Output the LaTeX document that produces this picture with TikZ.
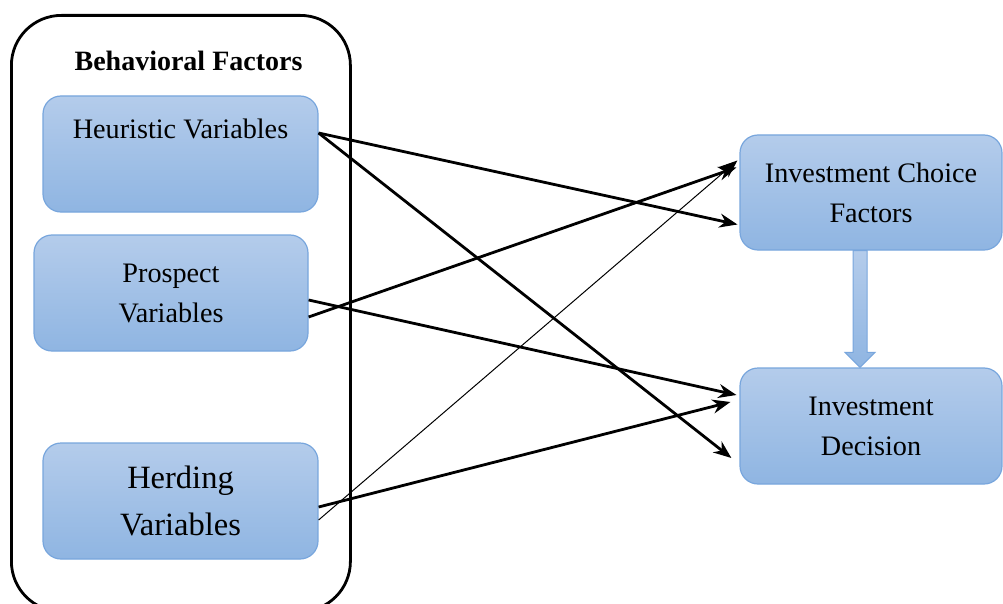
\documentclass[tikz,border=0pt]{standalone}
\usepackage{fontspec}
\setmainfont{Liberation Serif}
\usetikzlibrary{arrows.meta,calc}
\definecolor{boxtop}{RGB}{180,204,235}
\definecolor{boxbot}{RGB}{143,181,226}
\definecolor{boxline}{RGB}{120,166,221}
\tikzset{
 varbox/.style={draw=boxline, line width=1.2pt, rounded corners=18pt, top color=boxtop, bottom color=boxbot, align=center, inner sep=0pt, font=\fontsize{28.2}{40}\selectfont},
 link/.style={line width=2.8pt, -{Stealth[length=18pt,width=14pt]}},
 thinlink/.style={line width=1pt, -{Stealth[length=18pt,width=14pt]}},
}
\begin{document}
\begin{tikzpicture}[x=1pt,y=-1pt]
\useasboundingbox (0,0) rectangle (1003,604);
\clip (0,0) rectangle (1003,604);
\fill[white] (0,0) rectangle (1003,604);
\node[draw, line width=2.8pt, rounded corners=50pt, minimum width=339pt, minimum height=596pt, anchor=north west, inner sep=0pt] (behav) at (10,14) {};
\node[font=\bfseries\fontsize{28}{30}\selectfont] (bft) at (188.5,61) {Behavioral Factors};
\node[varbox, minimum width=275pt, minimum height=116pt] (heur) at (180.5,154) {Heuristic Variables\\[10pt]\mbox{}};
\node[varbox, minimum width=274pt, minimum height=116pt] (pros) at (171,293) {Prospect\\Variables};
\node[varbox, minimum width=275pt, minimum height=116pt, font=\fontsize{32.5}{47}\selectfont] (herd) at (180.5,501) {Herding\\Variables};
\node[varbox, minimum width=262pt, minimum height=115pt] (icf) at (871,192.5) {Investment Choice\\Factors};
\node[varbox, minimum width=262pt, minimum height=116pt] (id) at (871,426) {Investment\\Decision};
\path[draw=boxline, line width=1pt, top color=boxtop, bottom color=boxbot]
  ($(icf.south)+(-18,0)$) -- ($(icf.south)+(-4,0)$) -- ($(id.north)+(-4,-15)$) -- ($(id.north)+(4,-15)$)
  -- ($(id.north)+(-11,0)$) -- ($(id.north)+(-26,-15)$) -- ($(id.north)+(-18,-15)$) -- cycle;
\draw[link] ($(heur.east)+(0,-21)$) -- ($(icf.west)+(-2,32)$);
\draw[link] ($(heur.east)+(0,-21)$) -- ($(id.west)+(-8,32)$);
\draw[link] ($(pros.east)+(0,24)$) -- ($(icf.west)+(-3,-25)$);
\draw[link] ($(pros.east)+(0,7)$) -- ($(id.west)+(-3,-31)$);
\draw[link] ($(herd.east)+(0,6)$) -- ($(id.west)+(-9,-24)$);
\draw[thinlink] ($(herd.east)+(0,19)$) -- ($(icf.west)+(-2,-32)$);
\end{tikzpicture}
\end{document}
